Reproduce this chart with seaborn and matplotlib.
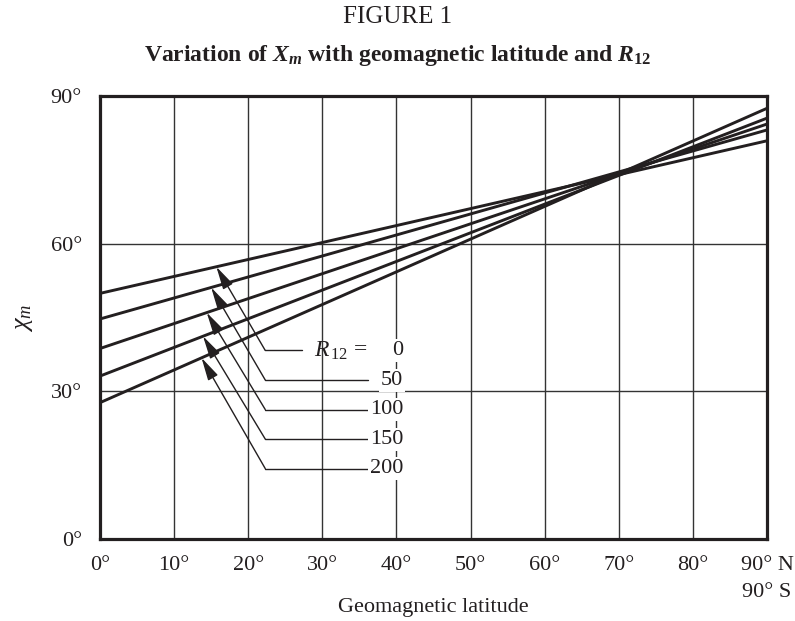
import seaborn as sns
import pandas as pd
import numpy as np
from matplotlib import pyplot as plt

sns.set_style("white")
plt.rcParams["font.family"] = ["Liberation Serif", "DejaVu Serif"]
plt.rcParams["mathtext.fontset"] = "custom"
plt.rcParams["mathtext.rm"] = "Liberation Serif"
plt.rcParams["mathtext.it"] = "Liberation Serif:italic"
plt.rcParams["mathtext.bf"] = "Liberation Serif:bold"
plt.rcParams["mathtext.bfit"] = "Liberation Serif:bold:italic"

# values (chi_m in degrees at 0 and 90 deg latitude)
latitude = [0, 90]
r12_values = [0, 50, 100, 150, 200]
chi_at_0 = [49.9, 44.7, 38.7, 33.1, 27.7]
chi_at_90 = [80.9, 83.1, 84.3, 85.5, 87.5]

# where the arrows touch each line, and where the labels sit
arrow_lat = [15.7, 15.0, 14.4, 13.9, 13.7]
label_y = [38.3, 32.3, 26.3, 20.3, 14.3]

xticks = [0, 10, 20, 30, 40, 50, 60, 70, 80, 90]
xtick_labels = ["0°", "10°", "20°", "30°", "40°", "50°", "60°", "70°", "80°", "90° N\n90° S"]
yticks = [0, 30, 60, 90]
ytick_labels = ["0°", "30°", "60°", "90°"]

rows = []
for r, a, b in zip(r12_values, chi_at_0, chi_at_90):
    rows.append({"lat": latitude[0], "chi": a, "R12": r})
    rows.append({"lat": latitude[1], "chi": b, "R12": r})
df = pd.DataFrame(rows)

ink = "#231f20"
fig = plt.figure(figsize=(7.95, 6.21), dpi=100)
ax = fig.add_axes([100/795, 1 - 539/621, 667/795, 443/621])

sns.lineplot(data=df, x="lat", y="chi", hue="R12",
             palette=[ink] * len(r12_values), linewidth=2.1,
             legend=False, ax=ax, zorder=3)

ax.set_xlim(0, 90)
ax.set_ylim(0, 90)
ax.set_xticks(xticks)
ax.set_xticklabels(xtick_labels, fontsize=16, linespacing=1.55)
ax.set_yticks(yticks)
ax.set_yticklabels(ytick_labels, fontsize=16)
ax.tick_params(axis="both", length=0, colors=ink)
ax.tick_params(axis="y", pad=13)
ax.tick_params(axis="x", pad=12.5)
ax.grid(True, color="#333333", linewidth=1.0, zorder=1)
for s in ax.spines.values():
    s.set_linewidth(2.3)
    s.set_color(ink)
    s.set_zorder(5)

ax.set_xlabel("Geomagnetic latitude", fontsize=16, color=ink)
ax.xaxis.set_label_coords(0.5, -0.133)
ax.set_ylabel(r"$\chi_m$", fontsize=19, color=ink, labelpad=11)

# leaders and arrows
elbow_x = 22.3
text_left = 36.2
num_right = 40.9
for i, r in enumerate(r12_values):
    tip_y = np.interp(arrow_lat[i], latitude, [chi_at_0[i], chi_at_90[i]])
    end_x = 27.2 if r == 0 else text_left
    ax.plot([elbow_x, end_x], [label_y[i], label_y[i]], color=ink, lw=1.0, zorder=4)
    ax.annotate("", xy=(arrow_lat[i], tip_y), xytext=(elbow_x, label_y[i]),
                arrowprops=dict(arrowstyle="-|>,head_length=0.7,head_width=0.17",
                                color=ink, lw=1.0, mutation_scale=20,
                                shrinkA=0, shrinkB=0),
                zorder=4)
    ax.text(num_right, label_y[i], str(r), ha="right", va="center", fontsize=16,
            color=ink, zorder=6,
            bbox=dict(fc="white", ec="none", pad=1.5))
ax.text(28.9, label_y[0], r"$R_{\,12}\,=$", ha="left", va="center", fontsize=17,
        color=ink, zorder=6)

fig.text(0.5, 1 - 17/621, "FIGURE 1", ha="center", va="center", fontsize=18, color=ink)
fig.text(0.5, 1 - 55/621,
         r"Variation of $\mathbfit{X}_{\mathbfit{m}}$ with geomagnetic latitude and $\mathbfit{R}_{\mathbf{12}}$",
         ha="center", va="center", fontsize=17, fontweight="bold", color=ink)

fig.savefig("out.png", dpi=100)
